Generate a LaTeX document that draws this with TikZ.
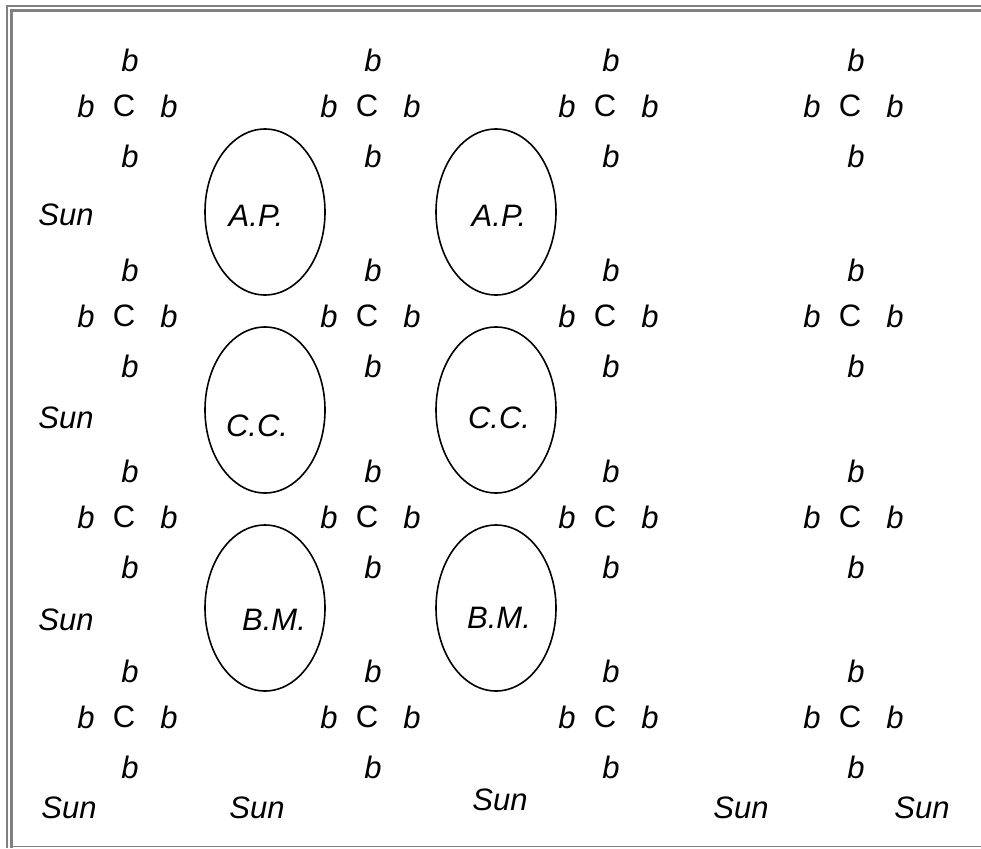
\documentclass[tikz,border=0pt]{standalone}
\usepackage{fontspec}
\setmainfont{Liberation Sans}
\usetikzlibrary{shapes.geometric}

\begin{document}
\begin{tikzpicture}[x=1pt,y=-1pt,
    txt/.style={font=\fontsize{31}{36}\selectfont\itshape, inner sep=0pt},
    ctr/.style={font=\fontsize{31}{36}\selectfont, inner sep=0pt},
    cell/.style={draw, line width=1.6pt, ellipse, minimum width=120pt, minimum height=166pt, inner sep=0pt}]
    \useasboundingbox (0,0) rectangle (981,848);
    % frame
    \draw[gray, line width=2.5pt] (7,848) -- (7,6) -- (981,6);
    \draw[gray, line width=3.5pt] (11.5,848) -- (11.5,10.5) -- (981,10.5);
    \draw[gray, line width=1.5pt] (11.5,846.5) -- (981,846.5);
    % C with its four b
    \foreach \y [count=\r] in {106,316,517,717}
        \foreach \x [count=\c] in {124,367,605,850} {
            \node[ctr] (c\r\c) at (\x,\y) {C};
            \node[txt] (t\r\c) at (\x+6,\y-46) {b};
            \node[txt] (l\r\c) at (\x-38,\y) {b};
            \node[txt] (r\r\c) at (\x+45,\y) {b};
            \node[txt] (d\r\c) at (\x+6,\y+50) {b};
        }
    % ellipses
    \node[cell] (ap1) at (265,212) {};
    \node[cell] (ap2) at (496,212) {};
    \node[cell] (cc1) at (265,410) {};
    \node[cell] (cc2) at (496,410) {};
    \node[cell] (bm1) at (265,608) {};
    \node[cell] (bm2) at (496,608) {};
    \node[txt] (apl1) at (256,216) {A.P.};
    \node[txt] (apl2) at (499,216) {A.P.};
    \node[txt] (ccl1) at (257,426) {C.C.};
    \node[txt] (ccl2) at (499,418) {C.C.};
    \node[txt] (bml1) at (274,620) {B.M.};
    \node[txt] (bml2) at (499,618) {B.M.};
    % suns
    \node[txt] (sun1) at (66,215) {Sun};
    \node[txt] (sun2) at (66,418) {Sun};
    \node[txt] (sun3) at (66,620) {Sun};
    \node[txt] (sun4) at (69,808) {Sun};
    \node[txt] (sun5) at (257,808) {Sun};
    \node[txt] (sun6) at (500,800) {Sun};
    \node[txt] (sun7) at (741,808) {Sun};
    \node[txt] (sun8) at (922,808) {Sun};
\end{tikzpicture}
\end{document}
